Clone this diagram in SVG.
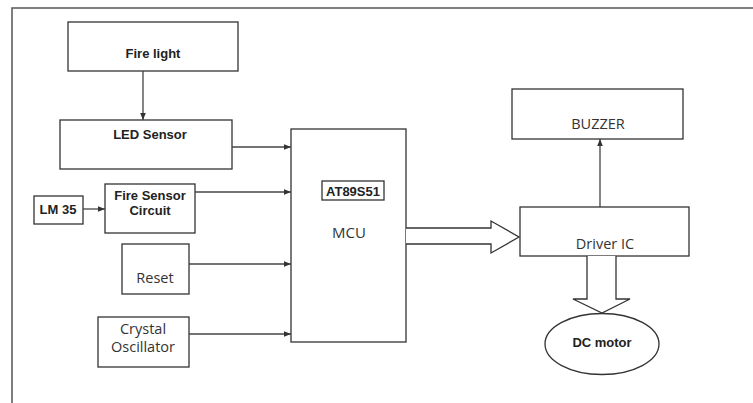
<svg xmlns="http://www.w3.org/2000/svg" width="753" height="403" viewBox="0 0 753 403">
<defs>
<marker id="ah" viewBox="0 0 10 10" refX="10" refY="5" markerWidth="7" markerHeight="7" markerUnits="userSpaceOnUse" orient="auto">
<path d="M0,1 L10,5 L0,9 Z" fill="#333"/>
</marker>
<style>
.box{fill:#fff;stroke:#333;stroke-width:1.3}
.b{font-family:"Liberation Sans",Arial,sans-serif;font-weight:bold;font-size:13px;fill:#222;text-anchor:middle}
.n{font-family:"Open Sans","DejaVu Sans",sans-serif;font-size:14.5px;fill:#333;text-anchor:middle}
.ln{fill:none;stroke:#444;stroke-width:1.3}
.big{fill:#fff;stroke:#333;stroke-width:1.3}
</style>
</defs>
<rect width="753" height="403" fill="#fff"/>
<path d="M12,403 V8 H753" fill="none" stroke="#555" stroke-width="1.5"/>

<g id="fire-light"><rect class="box" x="68" y="22" width="170" height="49"/><text class="b" x="153" y="58">Fire light</text></g>
<g id="led-sensor"><rect class="box" x="60" y="120" width="172" height="49"/><text class="b" x="150" y="139">LED Sensor</text></g>
<g id="lm35"><rect class="box" x="34" y="196" width="49" height="28"/><text class="b" x="58" y="214">LM 35</text></g>
<g id="fire-sensor"><rect class="box" x="105" y="184" width="90" height="49"/><text class="b" x="150" y="200">Fire Sensor</text><text class="b" x="150" y="215">Circuit</text></g>
<g id="reset"><rect class="box" x="122" y="244" width="67" height="50"/><text class="n" x="155" y="283">Reset</text></g>
<g id="crystal"><rect class="box" x="98" y="317" width="91" height="50"/><text class="n" x="143" y="334">Crystal</text><text class="n" x="143" y="352">Oscillator</text></g>
<g id="mcu"><rect class="box" x="291" y="129" width="115" height="213"/><rect class="box" x="322" y="181" width="62" height="19"/><text class="b" x="353" y="196">AT89S51</text><text class="n" x="349" y="238" style="font-size:15px">MCU</text></g>
<g id="buzzer"><rect class="box" x="512" y="89" width="171" height="50"/><text class="n" x="598" y="129">BUZZER</text></g>
<g id="driver-ic"><rect class="box" x="520" y="207" width="169" height="49"/><text class="n" x="605" y="249">Driver IC</text></g>
<g id="dc-motor"><ellipse class="box" cx="602" cy="344" rx="57" ry="30.5"/><text class="b" x="602" y="347">DC motor</text></g>

<g id="connectors">
<line class="ln" x1="143" y1="71" x2="143" y2="120" marker-end="url(#ah)"/>
<line class="ln" x1="232" y1="147" x2="291" y2="147" marker-end="url(#ah)"/>
<line class="ln" x1="195" y1="192" x2="291" y2="192" marker-end="url(#ah)"/>
<line class="ln" x1="83" y1="209" x2="105" y2="209" marker-end="url(#ah)"/>
<line class="ln" x1="189" y1="264" x2="291" y2="264" marker-end="url(#ah)"/>
<line class="ln" x1="189" y1="334" x2="291" y2="334" marker-end="url(#ah)"/>
<line class="ln" x1="600" y1="207" x2="600" y2="139" marker-end="url(#ah)"/>
<path class="big" d="M406,228 H491 V221 L519,237 L491,253 V244 H406"/>
<path class="big" d="M587,256 V299 H573 L602,313 L630,299 H616 V256"/>
</g>
</svg>
